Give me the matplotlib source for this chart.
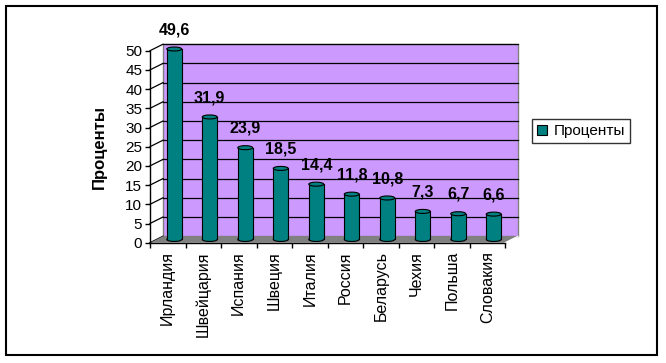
import matplotlib
matplotlib.use("Agg")
import matplotlib.pyplot as plt
from matplotlib.patches import Rectangle, Polygon, Ellipse, Patch
from matplotlib.ticker import MultipleLocator, FixedLocator

plt.rcParams['font.family'] = ['Liberation Sans', 'DejaVu Sans']

# data
countries = ['Ирландия', 'Швейцария', 'Испания', 'Швеция', 'Италия',
             'Россия', 'Беларусь', 'Чехия', 'Польша', 'Словакия']
percents = [49.6, 31.9, 23.9, 18.5, 14.4, 11.8, 10.8, 7.3, 6.7, 6.6]
series_name = 'Проценты'
y_max = 50
y_step = 5

wall_color = '#CC99FF'
floor_color = '#808080'
bar_color = '#008080'

W, H, DPI = 666, 363, 100
fig = plt.figure(figsize=(W / DPI, H / DPI), dpi=DPI)
fig.patch.set_facecolor('white')

# axes box in pixels: front plane of the 3d chart
x0, x1 = 150, 505
ytop, ybot = 50.7, 242.7
ax = fig.add_axes([x0 / W, (H - ybot) / H, (x1 - x0) / W, (ybot - ytop) / H])
n = len(countries)
ax.set_xlim(-0.5, n - 0.5)
ax.set_ylim(0, y_max)
ax.set_facecolor('none')

# depth of the 3d box, pixels -> data units
depth_px_x, depth_px_y = 13, 6.5
dx = depth_px_x / ((x1 - x0) / n)
dy = depth_px_y / ((ybot - ytop) / y_max)

# back wall
ax.add_patch(Rectangle((-0.5 + dx, dy), n, y_max, facecolor=wall_color,
                       edgecolor='#808080', lw=1, zorder=0, clip_on=False))

# gridlines on wall + side wall diagonals
for v in range(0, y_max + 1, y_step):
    ax.plot([-0.5, -0.5 + dx], [v, v + dy], color='black', lw=0.9,
            zorder=1, clip_on=False)
    if v > 0:
        ax.plot([-0.5 + dx, n - 0.5 + dx], [v + dy, v + dy], color='black',
                lw=0.9, zorder=1, clip_on=False)

# floor
ax.add_patch(Polygon([(-0.5, 0), (n - 0.5, 0), (n - 0.5 + dx, dy), (-0.5 + dx, dy)],
                     closed=True, facecolor=floor_color, edgecolor='none',
                     zorder=2, clip_on=False))
ax.plot([n - 0.5, n - 0.5 + dx], [0, dy], color='white', lw=0.8, zorder=2,
        clip_on=False)

# cylinders
bw = 0.42
cap_h = 4 / ((ybot - ytop) / y_max)
xs = [i + dx / 2 for i in range(n)]
base = dy / 2
ax.bar(xs, percents, bottom=base, width=bw, color=bar_color,
       edgecolor='none', lw=0, zorder=3, clip_on=False)
for x, v in zip(xs, percents):
    ax.add_patch(Ellipse((x, base), bw, cap_h, facecolor=bar_color,
                         edgecolor='black', lw=0.8, zorder=2.9, clip_on=False))
    ax.plot([x - bw / 2, x - bw / 2], [base, base + v], color='black', lw=0.8,
            zorder=3.5, clip_on=False)
    ax.plot([x + bw / 2, x + bw / 2], [base, base + v], color='black', lw=0.8,
            zorder=3.5, clip_on=False)
    ax.add_patch(Ellipse((x, base + v), bw, cap_h, facecolor=bar_color,
                         edgecolor='black', lw=0.8, zorder=4, clip_on=False))
    ax.annotate(f'{v:.1f}'.replace('.', ','), xy=(x, base + v),
                xytext=(0, 14), textcoords='offset points', ha='center',
                va='center', fontsize=11.5, fontweight='bold', zorder=5,
                annotation_clip=False)

# axes
for s in ['top', 'right']:
    ax.spines[s].set_visible(False)
ax.spines['left'].set_linewidth(1)
ax.spines['bottom'].set_linewidth(1)
ax.spines['left'].set_zorder(6)
ax.spines['bottom'].set_zorder(6)

ax.yaxis.set_major_locator(MultipleLocator(y_step))
ax.tick_params(axis='y', direction='out', length=3.6, width=1, pad=2,
               labelsize=11, colors='black')

ax.set_xticks(range(n))
ax.set_xticklabels(countries, rotation=90, va='top', ha='center', fontsize=11.5)
ax.tick_params(axis='x', which='major', length=0, pad=6)
ax.xaxis.set_minor_locator(FixedLocator([i - 0.5 for i in range(n + 1)]))
ax.tick_params(axis='x', which='minor', direction='out', length=3.6, width=1)

ax.set_ylabel(series_name, fontsize=12, fontweight='bold')
ax.yaxis.set_label_coords(-0.121, 0.5)

# legend
handle = Patch(facecolor=bar_color, edgecolor='black', lw=0.8)
leg = fig.legend([handle], [series_name], loc='center left',
                 bbox_to_anchor=(532 / W, 1 - 131 / H), fontsize=11,
                 frameon=True, fancybox=False, shadow=False,
                 handlelength=0.65, handleheight=0.65, handletextpad=0.4,
                 borderpad=0.35, borderaxespad=0)
leg.get_frame().set_edgecolor('black')
leg.get_frame().set_linewidth(1)

# outer chart frame
fig.add_artist(Rectangle((6 / W, (H - 355) / H), 651 / W, 349 / H,
                         transform=fig.transFigure, fill=False,
                         edgecolor='black', lw=1.5))

fig.savefig('out.png', dpi=DPI)
